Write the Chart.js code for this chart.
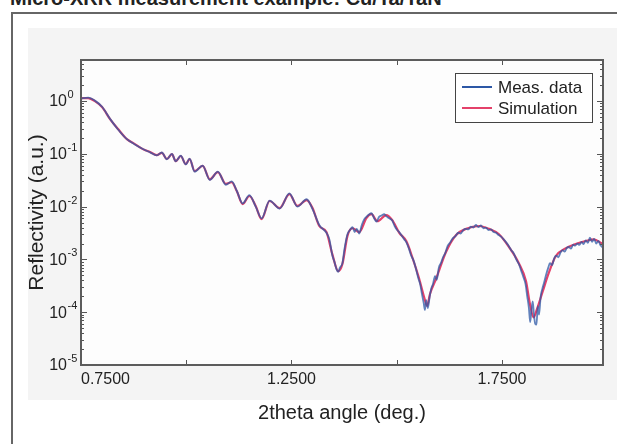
<!DOCTYPE html>
<html>
<head>
<meta charset="utf-8">
<title>XRR reflectivity</title>
<script src="https://cdn.jsdelivr.net/npm/chart.js@4.4.1/dist/chart.umd.min.js"></script>
<style>
  html, body { margin: 0; padding: 0; background: #fff; }
  #wrap { position: relative; width: 617px; height: 444px; overflow: hidden; font-family: "Liberation Sans", Arial, sans-serif; }
  #caption { position: absolute; left: 10px; top: -12px; font-weight: bold; font-size: 20px; line-height: 20px; color: #222; white-space: nowrap; }
  #frame { position: absolute; left: 11px; top: 12px; width: 700px; height: 500px; border-left: 2px solid #666; border-top: 2px solid #666; }
  #panel { position: absolute; left: 28px; top: 28px; width: 600px; height: 372px; background: #f4f4f4; }
  #chartBox { position: absolute; left: 0; top: 0; width: 617px; height: 444px; }
</style>
</head>
<body>
<div id="wrap">
  <div id="caption">Micro-XRR measurement example: Cu/Ta/TaN</div>
  <div id="frame"></div>
  <div id="panel"></div>
  <div id="chartBox"><canvas id="xrrChart"></canvas></div>
</div>
<script>
// simulated reflectivity curve (2theta in deg., reflectivity in a.u.)
const simX = [
  0.750, 0.767, 0.783, 0.800, 0.819, 0.838, 0.859, 0.878, 0.897, 0.914,
  0.930, 0.942, 0.954, 0.966, 0.975, 0.987, 0.999, 1.008, 1.020, 1.039,
  1.056, 1.075, 1.094, 1.108, 1.120, 1.134, 1.150, 1.165, 1.179, 1.198,
  1.222, 1.245, 1.264, 1.286, 1.300, 1.316, 1.333, 1.347, 1.361, 1.371,
  1.383, 1.395, 1.411, 1.428, 1.440, 1.454, 1.475, 1.489, 1.506, 1.523,
  1.537, 1.553, 1.565, 1.572, 1.579, 1.594, 1.617, 1.641, 1.665, 1.696,
  1.719, 1.743, 1.767, 1.790, 1.807, 1.816, 1.825, 1.834, 1.847, 1.861,
  1.878, 1.902, 1.925, 1.949, 1.968, 1.988
];
const simY = [
  1.14, 1.14, 1.0, 0.77, 0.456, 0.295, 0.19, 0.153, 0.123, 0.108,
  0.095, 0.104, 0.080, 0.099, 0.073, 0.091, 0.064, 0.080, 0.047, 0.059,
  0.033, 0.045, 0.027, 0.029, 0.0197, 0.0112, 0.0159, 0.0103, 0.0058, 0.0128,
  0.0094, 0.0173, 0.0103, 0.0133, 0.0094, 0.0043, 0.0033, 0.00126, 0.00060, 0.00082,
  0.0028, 0.0039, 0.0033, 0.0061, 0.0072, 0.0053, 0.0069, 0.0056, 0.0032, 0.0022,
  0.0011, 0.00044, 0.000194, 0.000131, 0.000221, 0.00044, 0.00138, 0.0029, 0.0038, 0.0043,
  0.0038, 0.0030, 0.0017, 0.00085, 0.00039, 0.00015, 0.00008, 0.00012, 0.00025, 0.00055,
  0.00116, 0.00164, 0.00196, 0.00223, 0.00240, 0.0020
];

// measured reflectivity
const measX = [
  0.750, 0.767, 0.783, 0.800, 0.819, 0.838, 0.859, 0.878, 0.897, 0.914,
  0.930, 0.942, 0.954, 0.966, 0.975, 0.987, 0.999, 1.008, 1.020, 1.039,
  1.056, 1.075, 1.094, 1.108, 1.120, 1.134, 1.150, 1.165, 1.179, 1.198,
  1.222, 1.245, 1.264, 1.286, 1.300, 1.316, 1.333,
  1.340, 1.347, 1.352, 1.357, 1.361, 1.365, 1.371, 1.376, 1.383, 1.389,
  1.395, 1.400, 1.405, 1.411, 1.417, 1.423, 1.428, 1.434, 1.440, 1.446,
  1.452, 1.458, 1.464, 1.470, 1.475, 1.481, 1.489, 1.495, 1.501, 1.506,
  1.512, 1.518, 1.523, 1.529, 1.534, 1.540, 1.546, 1.551, 1.556, 1.560,
  1.564, 1.567, 1.570, 1.574, 1.578, 1.582, 1.586, 1.591, 1.595, 1.600,
  1.605, 1.610, 1.615, 1.621, 1.627, 1.633, 1.640, 1.646, 1.652, 1.658,
  1.664, 1.670, 1.676, 1.682, 1.688, 1.694, 1.700, 1.706, 1.712, 1.718,
  1.724, 1.730, 1.736, 1.742, 1.748, 1.754, 1.760, 1.766, 1.772, 1.778,
  1.784, 1.790, 1.796, 1.801, 1.806, 1.810, 1.814, 1.817, 1.820, 1.823,
  1.826, 1.829, 1.832, 1.835, 1.838, 1.842, 1.846, 1.850, 1.855, 1.860,
  1.864, 1.869, 1.874, 1.879, 1.884, 1.889, 1.894, 1.899, 1.904, 1.909,
  1.914, 1.919, 1.924, 1.929, 1.934, 1.939, 1.944, 1.949, 1.954, 1.959,
  1.964, 1.969, 1.974, 1.979, 1.984, 1.989
];
const measY = [
  1.12, 1.16, 1.02, 0.78, 0.46, 0.29, 0.19, 0.151, 0.124, 0.107,
  0.094, 0.106, 0.079, 0.100, 0.072, 0.092, 0.063, 0.081, 0.046, 0.060,
  0.032, 0.046, 0.026, 0.030, 0.0200, 0.0115, 0.0165, 0.0100, 0.0060, 0.0130,
  0.0092, 0.0178, 0.0100, 0.0138, 0.0090, 0.0045, 0.0032,
  0.0024, 0.0012, 0.0009, 0.00065, 0.00058, 0.00070, 0.00085, 0.0016, 0.0030, 0.0036,
  0.0041, 0.0033, 0.0038, 0.0031, 0.0045, 0.0058, 0.0064, 0.0071, 0.0075, 0.0061,
  0.0052, 0.0064, 0.0068, 0.0072, 0.0066, 0.0061, 0.0055, 0.0043, 0.0036, 0.0033,
  0.0028, 0.0024, 0.0021, 0.0016, 0.0012, 0.00095, 0.00065, 0.00045, 0.00033, 0.00022,
  0.00015, 0.00011, 0.00017, 0.00012, 0.00019, 0.00028, 0.00034, 0.00048, 0.00041, 0.00070,
  0.00085, 0.00110, 0.00130, 0.00180, 0.0021, 0.0025, 0.0028, 0.0032, 0.0031, 0.0036,
  0.0038, 0.0037, 0.0042, 0.0040, 0.0045, 0.0041, 0.0044, 0.0039, 0.0040, 0.0036,
  0.0037, 0.0033, 0.0032, 0.0029, 0.0027, 0.0024, 0.0021, 0.0018, 0.0015, 0.0013,
  0.0010, 0.00082, 0.00060, 0.00046, 0.00034, 0.00020, 0.00012, 0.000065, 0.00011, 0.00016,
  0.00009, 0.00006, 0.000058, 0.00013, 0.00009, 0.00020, 0.00028, 0.00036, 0.00052, 0.00070,
  0.00085, 0.00078, 0.00105, 0.00118, 0.00110, 0.00135, 0.00150, 0.00140, 0.00165, 0.00172,
  0.00160, 0.00190, 0.00182, 0.00200, 0.00188, 0.00215, 0.00195, 0.00230, 0.00205, 0.00260,
  0.00215, 0.00245, 0.00200, 0.00225, 0.00185, 0.00170
];

// axis ticks
const xTickMarks = [0.75, 1.0, 1.25, 1.5, 1.75];
const xTickLabels = [0.75, 1.25, 1.75];
const yDecades = [0, -1, -2, -3, -4, -5];

const seriesNames = ['Meas. data', 'Simulation'];
const seriesColors = ['#2d58a6', '#e4416a'];

const FONT = '"Liberation Sans", Arial, sans-serif';

// plot background, box, inward ticks, power-of-ten labels and the legend
const plotDecor = {
  id: 'plotDecor',
  beforeDatasetsDraw(chart) {
    const { ctx, chartArea: a } = chart;
    ctx.save();
    ctx.fillStyle = '#fdfdfd';
    ctx.fillRect(a.left, a.top, a.width, a.height);
    ctx.restore();
  },
  afterDatasetsDraw(chart) {
    const { ctx, chartArea: a, scales: { x, y } } = chart;
    ctx.save();
    ctx.strokeStyle = '#555';
    ctx.lineWidth = 1;
    const seg = (x1, y1, x2, y2) => { ctx.beginPath(); ctx.moveTo(x1, y1); ctx.lineTo(x2, y2); ctx.stroke(); };

    // log ticks on both sides
    for (let d = -5; d <= 0; d++) {
      for (let m = 1; m <= 9; m++) {
        const v = m * Math.pow(10, d);
        if (v > y.max) continue;
        const py = Math.round(y.getPixelForValue(v)) + 0.5;
        const len = m === 1 ? 6 : 3;
        seg(a.left, py, a.left + len, py);
        seg(a.right, py, a.right - len, py);
      }
    }
    // x ticks top and bottom
    xTickMarks.forEach(v => {
      const px = Math.round(x.getPixelForValue(v)) + 0.5;
      seg(px, a.bottom, px, a.bottom - 5);
      seg(px, a.top, px, a.top + 5);
    });

    // frame
    ctx.strokeStyle = '#5c5c5c';
    ctx.lineWidth = 2;
    ctx.strokeRect(a.left, a.top, a.width, a.height);

    // y labels 10^n
    ctx.fillStyle = '#222';
    yDecades.forEach(d => {
      const py = y.getPixelForValue(Math.pow(10, d));
      ctx.font = '16px ' + FONT;
      ctx.textAlign = 'right';
      ctx.textBaseline = 'middle';
      ctx.fillText('10', a.left - 14, py + 1);
      ctx.font = '11px ' + FONT;
      ctx.textAlign = 'left';
      ctx.fillText(String(d), a.left - 13.5, py - 6);
    });

    // legend box
    const bx = a.right - 148, by = a.top + 13, bw = 137, bh = 49;
    ctx.fillStyle = '#fff';
    ctx.fillRect(bx, by, bw, bh);
    ctx.strokeStyle = '#444';
    ctx.lineWidth = 1;
    ctx.strokeRect(bx + 0.5, by + 0.5, bw, bh);
    ctx.font = '17px ' + FONT;
    ctx.textAlign = 'left';
    ctx.textBaseline = 'middle';
    seriesNames.forEach((name, i) => {
      const ly = by + 14 + i * 21;
      ctx.strokeStyle = seriesColors[i];
      ctx.lineWidth = 2;
      seg(bx + 7, ly, bx + 37, ly);
      ctx.fillStyle = '#222';
      ctx.fillText(name, bx + 43, ly + 1);
    });
    ctx.restore();
  }
};

new Chart(document.getElementById('xrrChart'), {
  type: 'line',
  data: {
    datasets: [
      {
        label: seriesNames[0],
        data: measX.map((v, i) => ({ x: v, y: measY[i] })),
        borderColor: 'rgba(45, 88, 166, 0.75)',
        borderWidth: 1.8,
        pointRadius: 0,
        cubicInterpolationMode: 'monotone'
      },
      {
        label: seriesNames[1],
        data: simX.map((v, i) => ({ x: v, y: simY[i] })),
        borderColor: seriesColors[1],
        borderWidth: 2.2,
        pointRadius: 0,
        cubicInterpolationMode: 'monotone'
      }
    ]
  },
  options: {
    responsive: true,
    maintainAspectRatio: false,
    devicePixelRatio: 1,
    animation: false,
    layout: { padding: { top: 60, right: 14, left: 0, bottom: 0 } },
    plugins: { legend: { display: false }, tooltip: { enabled: false } },
    scales: {
      x: {
        type: 'linear',
        min: 0.75,
        max: 1.99,
        grid: { display: false },
        border: { display: false },
        afterBuildTicks: s => { s.ticks = xTickMarks.concat([s.max]).map(v => ({ value: v })); },
        afterFit: s => { s.height = 79; },
        ticks: {
          align: 'inner',
          padding: -3,
          color: '#222',
          font: { family: FONT, size: 16 },
          callback: v => xTickLabels.includes(v) ? v.toFixed(4) : ''
        },
        title: {
          display: true,
          text: '2theta angle (deg.)',
          color: '#222',
          font: { family: FONT, size: 20 },
          padding: { top: 0, bottom: 19 }
        }
      },
      y: {
        type: 'logarithmic',
        min: 1e-5,
        max: 6,
        grid: { display: false },
        border: { display: false },
        ticks: { display: false },
        afterFit: s => { s.width = 81; },
        title: {
          display: true,
          text: 'Reflectivity (a.u.)',
          color: '#222',
          font: { family: FONT, size: 21 },
          padding: { top: 25, bottom: 0 }
        }
      }
    }
  },
  plugins: [plotDecor]
});
</script>
</body>
</html>
